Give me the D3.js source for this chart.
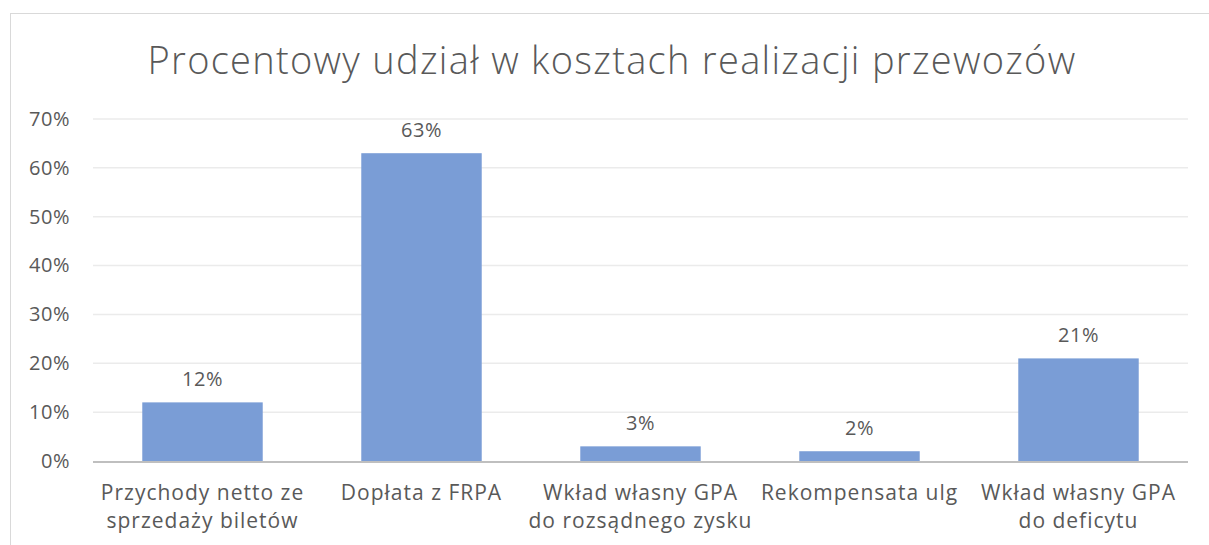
<!DOCTYPE html>
<html>
<head>
<meta charset="utf-8">
<script src="https://cdn.jsdelivr.net/npm/d3@7"></script>
<style>
  body { margin: 0; background: #fff; }
  svg { display: block; font-family: "Open Sans", "Noto Sans", sans-serif; }
</style>
</head>
<body>
<svg id="chart" width="1209" height="545"></svg>
<script>
// Chart data
const categories = [
    ['Przychody netto ze', 'sprzedaży biletów'],
    ['Dopłata z FRPA'],
    ['Wkład własny GPA', 'do rozsądnego zysku'],
    ['Rekompensata ulg'],
    ['Wkład własny GPA', 'do deficytu']
];
const shares = [12, 63, 3, 2, 21];
const yTicks = [0, 10, 20, 30, 40, 50, 60, 70];
const title = 'Procentowy udział w kosztach realizacji przewozów';

const svg = d3.select('#chart');
const textColor = '#595959';

// outer chart frame
svg.append('rect')
    .attr('x', 10.5).attr('y', 13.5)
    .attr('width', 1205).attr('height', 545)
    .attr('fill', 'none')
    .attr('stroke', '#d9d9d9');

const plot = { left: 93, right: 1188, top: 119, bottom: 461 };

const x = d3.scaleBand()
    .domain(d3.range(categories.length))
    .range([plot.left, plot.right])
    .paddingInner(0.45)
    .paddingOuter(0.225);

const y = d3.scaleLinear()
    .domain([0, 70])
    .range([plot.bottom, plot.top]);

// title
svg.append('text')
    .attr('x', 612).attr('y', 74)
    .attr('text-anchor', 'middle')
    .attr('fill', textColor)
    .attr('font-size', 38)
    .attr('font-weight', 300)
    .attr('letter-spacing', 1.3)
    .text(title);

// gridlines
svg.append('g')
    .selectAll('line')
    .data(yTicks.filter(d => d > 0))
    .join('line')
    .attr('x1', plot.left).attr('x2', plot.right)
    .attr('y1', d => y(d)).attr('y2', d => y(d))
    .attr('stroke', '#ebebeb')
    .attr('stroke-width', 1.5);

// y axis labels
const yAxis = svg.append('g')
    .attr('transform', `translate(${plot.left - 20},0)`)
    .call(d3.axisLeft(y).tickValues(yTicks).tickFormat(d => d + '%').tickSize(0));
yAxis.select('.domain').remove();
yAxis.selectAll('text')
    .attr('fill', textColor)
    .attr('font-size', 20)
    .attr('letter-spacing', 0.5)
    .attr('font-family', '"Open Sans", "Noto Sans", sans-serif');

// bars
svg.append('g')
    .selectAll('rect')
    .data(shares)
    .join('rect')
    .attr('x', (d, i) => x(i))
    .attr('y', d => y(d))
    .attr('width', x.bandwidth())
    .attr('height', d => y(0) - y(d))
    .attr('fill', '#7a9dd6');

// value labels
svg.append('g')
    .selectAll('text')
    .data(shares)
    .join('text')
    .attr('x', (d, i) => x(i) + x.bandwidth() / 2)
    .attr('y', d => y(d) - 16)
    .attr('text-anchor', 'middle')
    .attr('fill', textColor)
    .attr('font-size', 20)
    .attr('letter-spacing', 0.5)
    .text(d => d + '%');

// baseline
svg.append('line')
    .attr('x1', plot.left).attr('x2', plot.right)
    .attr('y1', y(0) + 1).attr('y2', y(0) + 1)
    .attr('stroke', '#bfbfbf')
    .attr('stroke-width', 2);

// category labels
const catLabels = svg.append('g')
    .selectAll('text')
    .data(categories)
    .join('text')
    .attr('text-anchor', 'middle')
    .attr('fill', textColor)
    .attr('font-size', 21)
    .attr('letter-spacing', 1);

catLabels.selectAll('tspan')
    .data((d, i) => d.map(line => ({ line, i })))
    .join('tspan')
    .attr('x', d => x(d.i) + x.bandwidth() / 2)
    .attr('y', (d, j) => 500 + j * 28)
    .text(d => d.line);
</script>
</body>
</html>
